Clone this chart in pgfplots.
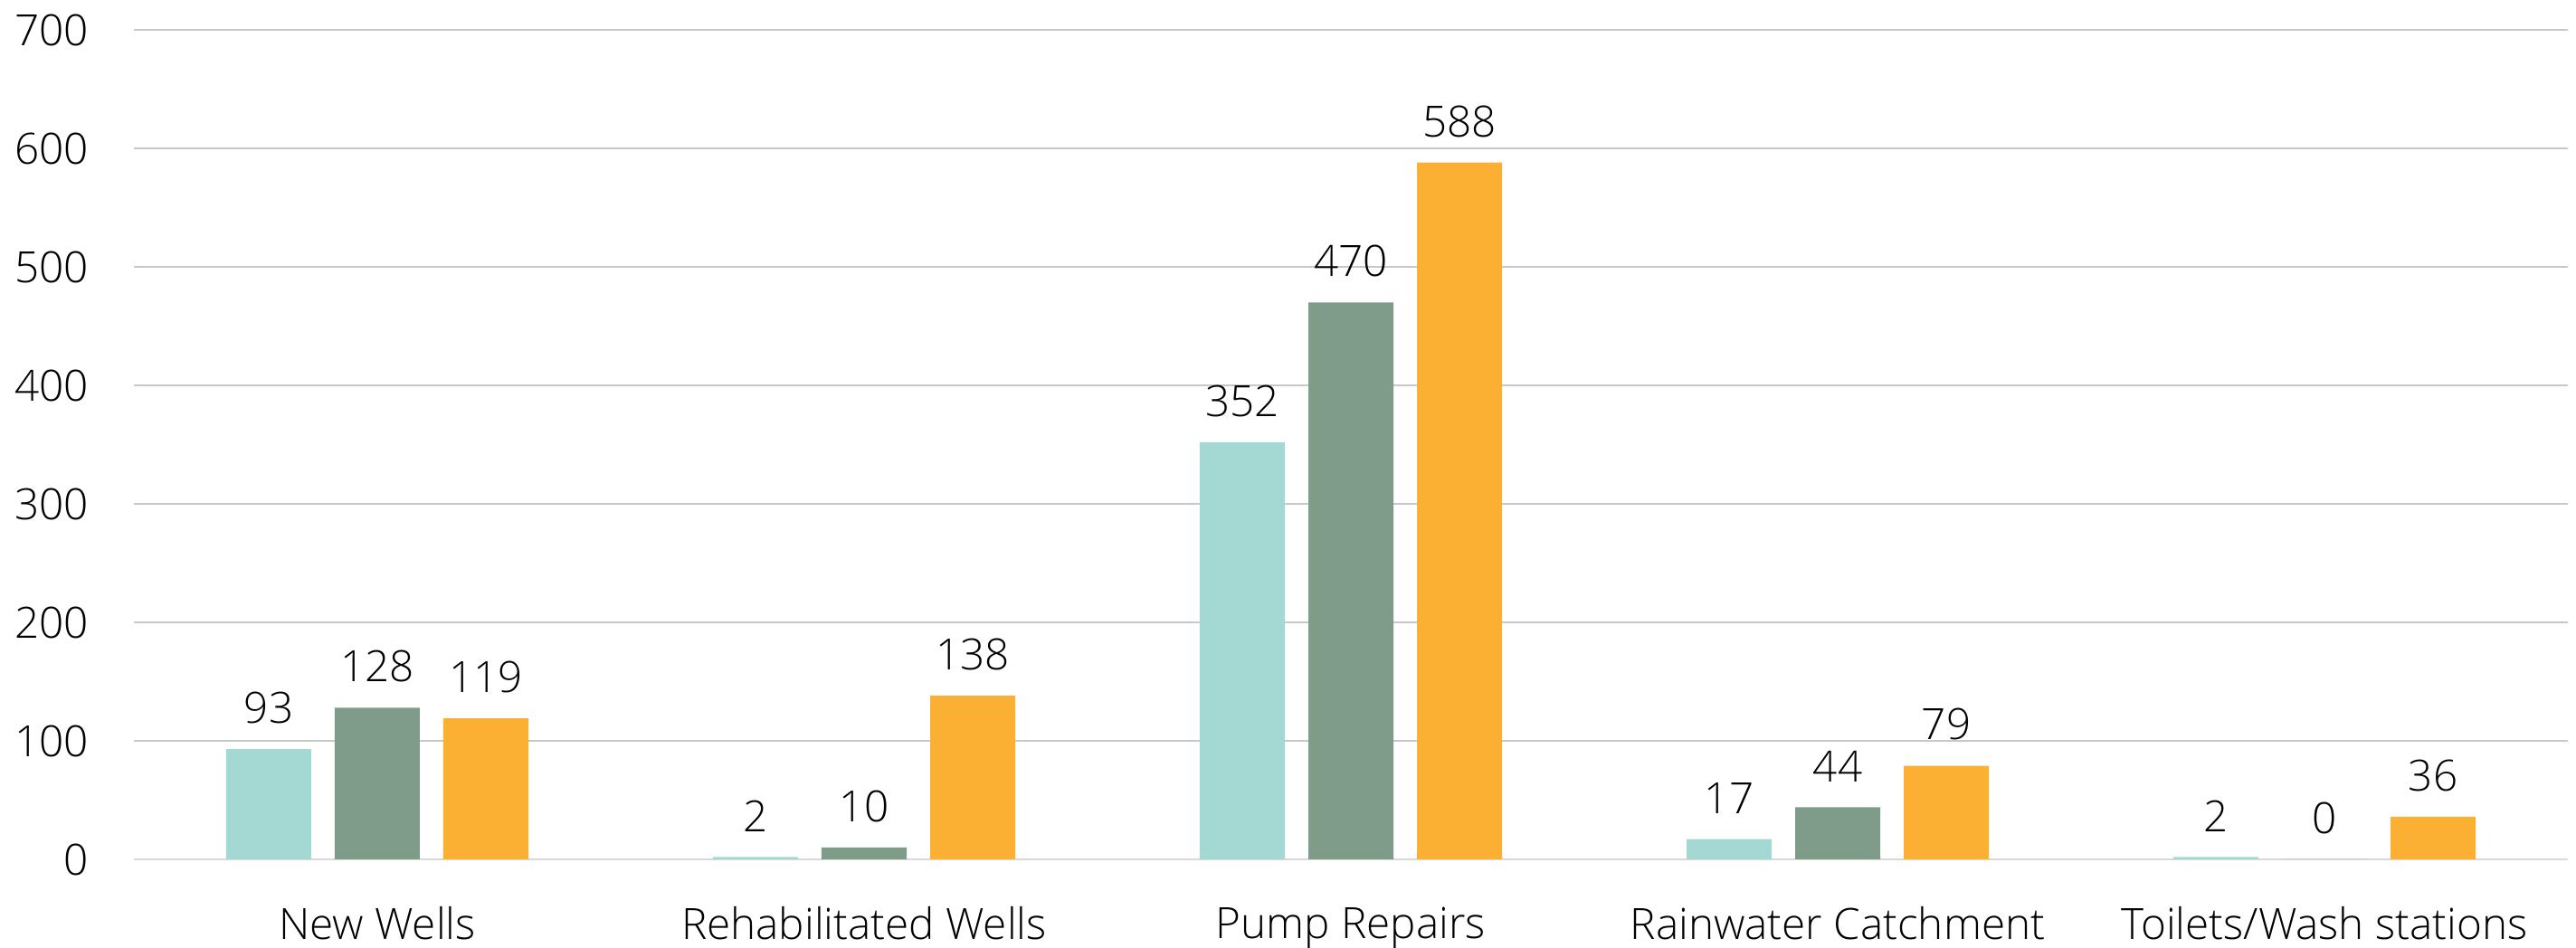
\documentclass[border=0pt]{standalone}
\usepackage{pgfplots}
\pgfplotsset{compat=1.18}
\usepackage{fontspec}
\setmainfont{Open Sans Light}
\definecolor{cA}{HTML}{A3D8D3}
\definecolor{cB}{HTML}{7E9C89}
\definecolor{cC}{HTML}{FBB034}
\definecolor{gridc}{HTML}{C8C8C8}
\definecolor{basec}{HTML}{D9D9D9}
\begin{document}
\begin{tikzpicture}
\begin{axis}[
  scale only axis,
  width=672.5pt, height=229.25pt,
  xmin=-0.5, xmax=4.5, ymin=0, ymax=700,
  ytick={0,100,...,700},
  xtick={0,1,2,3,4},
  xticklabels={New Wells, Rehabilitated Wells, Pump Repairs, Rainwater Catchment, Toilets/Wash stations},
  axis y line*=left,
  y axis line style={draw=none},
  axis x line*=bottom,
  x axis line style={draw=basec, line width=0.5pt, -},
  ymajorgrids,
  grid style={draw=gridc, line width=0.4pt},
  major tick length=0pt,
  tick style={draw=none},
  font=\fontsize{11.9}{14}\selectfont,
  /pgf/number format/assume math mode=true,
  yticklabel style={anchor=east, xshift=-9pt},
  xticklabel style={anchor=north, yshift=-9.6pt},
  ybar, bar width=23.5pt,
]
\pgfplotsset{every axis plot/.append style={draw=none}}
\addplot[fill=cA, bar shift=-30pt, nodes near coords, every node near coord/.append style={yshift=3.5pt, font=\fontsize{11.9}{14}\selectfont}] coordinates {(0,93) (1,2) (2,352) (3,17) (4,2)};
\addplot[fill=cB, bar shift=0pt, nodes near coords, every node near coord/.append style={yshift=3.5pt, font=\fontsize{11.9}{14}\selectfont}] coordinates {(0,128) (1,10) (2,470) (3,44) (4,0)};
\addplot[fill=cC, bar shift=30pt, nodes near coords, every node near coord/.append style={yshift=3.5pt, font=\fontsize{11.9}{14}\selectfont}] coordinates {(0,119) (1,138) (2,588) (3,79) (4,36)};
\end{axis}
\pgfresetboundingbox
\path[use as bounding box] (-37pt,-24.5pt) rectangle (674.75pt,237.5pt);
\end{tikzpicture}
\end{document}
